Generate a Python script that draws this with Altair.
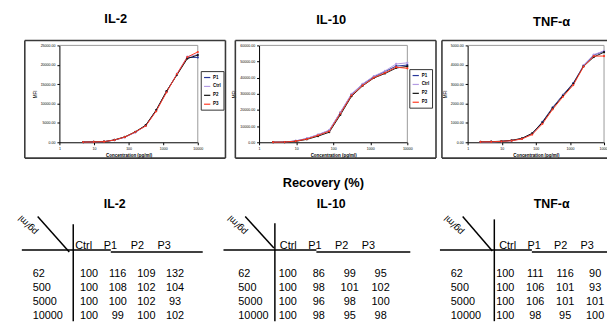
import altair as alt
import pandas as pd

FONT = "Liberation Sans"
TW, TH = 606, 315  # whole drawing, in pixels

series_names = ["P1", "Ctrl", "P2", "P3"]
series_colors = ["#27379a", "#b39be3", "#111111", "#ff3a22"]

# ---- standard curves (MFI vs concentration, pg/ml) ----
il2_conc = [4.9, 9.8, 19.5, 39, 78, 156, 312, 625, 1250, 2500, 5000, 10000]
il2_p1 = [30, 80, 150, 560, 1300, 2600, 4300, 8200, 13100, 17500, 21900, 21900]
il2_ctrl = [50, 90, 170, 600, 1280, 2550, 4250, 8100, 13000, 17700, 22100, 22600]
il2_p2 = [60, 110, 140, 620, 1400, 2700, 4400, 8300, 13200, 17400, 21600, 22500]
il2_p3 = [40, 90, 160, 580, 1350, 2650, 4200, 8000, 12900, 17600, 22000, 23300]

il10_conc = [2.4, 4.9, 9.8, 19.5, 39, 78, 156, 312, 625, 1250, 2500, 5000, 10000]
il10_p1 = [40, 100, 800, 2300, 4600, 7300, 18400, 29600, 36000, 40500, 43800, 47200, 47800]
il10_ctrl = [50, 110, 900, 2400, 4800, 7500, 18600, 30000, 36200, 41000, 44200, 48500, 49200]
il10_p2 = [30, 90, 600, 1800, 3800, 6200, 17000, 28500, 35000, 39800, 42600, 46000, 47000]
il10_p3 = [60, 120, 700, 2000, 4300, 6800, 17800, 29000, 35200, 40000, 43000, 46500, 45800]

tnf_conc = [2.4, 4.9, 9.8, 19.5, 39, 78, 156, 312, 625, 1250, 2500, 5000, 10000]
tnf_p1 = [15, 20, 40, 90, 190, 450, 1050, 1800, 2450, 3050, 3950, 4500, 4700]
tnf_ctrl = [10, 20, 50, 85, 180, 430, 1000, 1780, 2420, 3000, 3980, 4520, 4720]
tnf_p2 = [20, 30, 55, 100, 200, 460, 1020, 1760, 2400, 3020, 3920, 4400, 4650]
tnf_p3 = [20, 25, 45, 80, 170, 400, 950, 1700, 2350, 2950, 3900, 4450, 4450]

# ---- recovery tables (%) ----
rec_rows = ["62", "500", "5000", "10000"]
rec_cols = ["Ctrl", "P1", "P2", "P3"]
rec_il2_ctrl = [100, 100, 100, 100]
rec_il2_p1 = [116, 108, 100, 99]
rec_il2_p2 = [109, 102, 102, 100]
rec_il2_p3 = [132, 104, 93, 102]
rec_il10_ctrl = [100, 100, 100, 100]
rec_il10_p1 = [86, 98, 96, 98]
rec_il10_p2 = [99, 101, 98, 95]
rec_il10_p3 = [95, 102, 100, 98]
rec_tnf_ctrl = [100, 100, 100, 100]
rec_tnf_p1 = [111, 106, 106, 98]
rec_tnf_p2 = [116, 101, 101, 95]
rec_tnf_p3 = [90, 93, 101, 100]

panel_titles = ["IL-2", "IL-10", "TNF-α"]
main_title = "Recovery (%)"
unit_label = "pg/ml"

dummy = pd.DataFrame({"d": [0]})


def seg(x1, y1, x2, y2, color="black", sw=1.5):
    return alt.Chart(dummy).mark_rule(color=color, strokeWidth=sw).encode(
        x=alt.value(x1), x2=alt.value(x2), y=alt.value(y1), y2=alt.value(y2)
    )


def label(text, x, y, size, bold=False, align="center", baseline="middle", angle=0):
    kw = dict(font=FONT, fontSize=size, align=align, baseline=baseline, color="black")
    if bold:
        kw["fontWeight"] = "bold"
    if angle:
        kw["angle"] = angle
    return alt.Chart(pd.DataFrame({"t": [text]})).mark_text(**kw).encode(
        x=alt.value(x), y=alt.value(y), text="t:N")


PY0, PY1 = 134, 36  # plot bottom / top


def curve(conc, vals, ymax, ystep, xr, legend_pos):
    rows = []
    for name, v in zip(series_names, vals):
        for c, m in zip(conc, v):
            rows.append({"conc": c, "mfi": m, "series": name})
    df = pd.DataFrame(rows)
    xenc = alt.X("conc:Q", scale=alt.Scale(type="log", domain=[1, 10000], range=xr),
                 axis=alt.Axis(orient="bottom", offset=-(TH - PY0),
                               values=[1, 10, 100, 1000, 10000], format="d",
                               labelFontSize=3.6, labelFont=FONT, labelPadding=1.5,
                               tickSize=2.5, tickColor="black", domainColor="black",
                               labelColor="black", title="Concentration (pg/ml)",
                               titleFontSize=4.5, titleFont=FONT, titleFontWeight="bold",
                               titleColor="black", titlePadding=3, grid=False,
                               labelFlush=False))
    yenc = alt.Y("mfi:Q", scale=alt.Scale(domain=[0, ymax], range=[PY0, PY1], nice=False),
                 axis=alt.Axis(orient="left", offset=-xr[0],
                               values=list(range(0, ymax + 1, ystep)), format=".2f",
                               labelFontSize=3.6, labelFont=FONT, labelPadding=2,
                               tickSize=2.5, tickColor="black", domainColor="black",
                               labelColor="black", title="MFI", titleFontSize=4.5,
                               titleFont=FONT, titleFontWeight="normal",
                               titleColor="black", titlePadding=3, grid=False))
    cscale = alt.Scale(domain=series_names, range=series_colors)
    if legend_pos:
        leg = alt.Legend(orient="none", legendX=legend_pos[0], legendY=legend_pos[1],
                         title=None, labelFontSize=4.5, labelFont=FONT,
                         labelFontWeight="bold", labelColor="black", symbolType="stroke",
                         symbolSize=40, symbolStrokeWidth=1.2, rowPadding=2, padding=2.5,
                         strokeColor="#333", fillColor="white", labelOffset=2)
    else:
        leg = None
    return alt.Chart(df).mark_line(
        strokeWidth=1, point=alt.OverlayMarkDef(size=5, filled=True)).encode(
        x=xenc, y=yenc,
        color=alt.Color("series:N", scale=cscale, legend=leg, sort=series_names),
    )


def frame(x0, x1, y0, y1, right=True):
    fc, sw = "#3a3a3a", 1.6
    out = [seg(x0, y0, x1, y0, fc, sw), seg(x0, y1, x1, y1, fc, sw), seg(x0, y0, x0, y1, fc, sw)]
    if right:
        out.append(seg(x1, y0, x1, y1, fc, sw))
    return out


def plot_box(xr):
    return [seg(xr[0], PY1, xr[1], PY1, "#9a9a9a", 1), seg(xr[1], PY1, xr[1], PY0, "#9a9a9a", 1)]


RY = [267, 310]


def table(cols_vals, hx, vx, rowx):
    rows = []
    for i, r in enumerate(rec_rows):
        for c, v in zip(rec_cols, cols_vals):
            rows.append({"row": r, "col": c, "val": str(v[i])})
    df = pd.DataFrame(rows)
    ys = alt.Y("row:N", scale=alt.Scale(type="point", domain=rec_rows, range=RY, padding=0),
               axis=None)
    vals = alt.Chart(df).mark_text(font=FONT, fontSize=11, baseline="middle",
                                   color="black").encode(
        x=alt.X("col:N", scale=alt.Scale(type="point", domain=rec_cols, range=vx, padding=0),
                axis=None),
        y=ys, text="val:N")
    heads = alt.Chart(pd.DataFrame({"col": rec_cols})).mark_text(
        font=FONT, fontSize=11, baseline="alphabetic", color="black").encode(
        x=alt.X("col:N", scale=alt.Scale(type="point", domain=rec_cols, range=hx, padding=0),
                axis=None),
        y=alt.value(241.5), text="col:N")
    rowlab = alt.Chart(pd.DataFrame({"row": rec_rows})).mark_text(
        font=FONT, fontSize=11, align="left", baseline="middle", color="black").encode(
        x=alt.value(rowx), y=ys, text="row:N")
    return [vals, heads, rowlab]


layers = []
# ---- top: standard curves ----
xr1, xr2, xr3 = [52, 192], [254, 404], [465, 603]
layers += frame(17, 220, 31, 150) + frame(230, 433, 31, 150) + frame(439, TW, 31, 150, right=False)
layers += plot_box(xr1) + plot_box(xr2) + plot_box(xr3)
layers.append(curve(il2_conc, [il2_p1, il2_ctrl, il2_p2, il2_p3], 25000, 5000, xr1, (195, 62)))
layers.append(curve(il10_conc, [il10_p1, il10_ctrl, il10_p2, il10_p3], 60000, 10000, xr2, (406, 60)))
layers.append(curve(tnf_conc, [tnf_p1, tnf_ctrl, tnf_p2, tnf_p3], 5000, 1000, xr3, None))
layers.append(label(panel_titles[0], 109, 9, 13, bold=True))
layers.append(label(panel_titles[1], 327, 10, 13, bold=True))
layers.append(label(panel_titles[2], 550, 12, 13, bold=True))

# ---- bottom: recovery tables ----
layers.append(label(main_title, 319, 175, 13, bold=True))
layers.append(label(panel_titles[0], 108, 196, 12.5, bold=True))
layers.append(label(panel_titles[1], 327, 196, 12.5, bold=True))
layers.append(label(panel_titles[2], 550, 196, 12.5, bold=True))
for ux in (20, 232, 451):
    layers.append(label(unit_label, ux, 218, 9.5, angle=225))
# table grid lines
layers += [seg(14, 243, 104, 243), seg(104, 245, 197, 245), seg(66, 217, 66, TH),
           seg(30, 209, 62, 245)]
layers += [seg(218, 243, 312, 243), seg(312, 245, 407, 245), seg(270, 216, 270, TH),
           seg(240, 209, 269, 241)]
layers += [seg(437, 243, 530, 243), seg(530, 245, TW, 245), seg(492, 212, 492, TH),
           seg(460, 209, 490, 244)]
layers += table([rec_il2_ctrl, rec_il2_p1, rec_il2_p2, rec_il2_p3], [76.5, 158], [82, 169], 25)
layers += table([rec_il10_ctrl, rec_il10_p1, rec_il10_p2, rec_il10_p3], [283.5, 364.5], [283, 377], 233)
layers += table([rec_tnf_ctrl, rec_tnf_p1, rec_tnf_p2, rec_tnf_p3], [505.5, 586], [503, 594], 448)

chart = alt.layer(*layers).resolve_scale(
    x="independent", y="independent", color="independent"
).resolve_legend(color="independent").properties(
    width=TW, height=TH,
    autosize=alt.AutoSizeParams(type="none"),
    padding=0,
    background="white",
).configure_view(stroke="transparent")

chart.save("out.html", embed_options={"renderer": "svg", "actions": False})
